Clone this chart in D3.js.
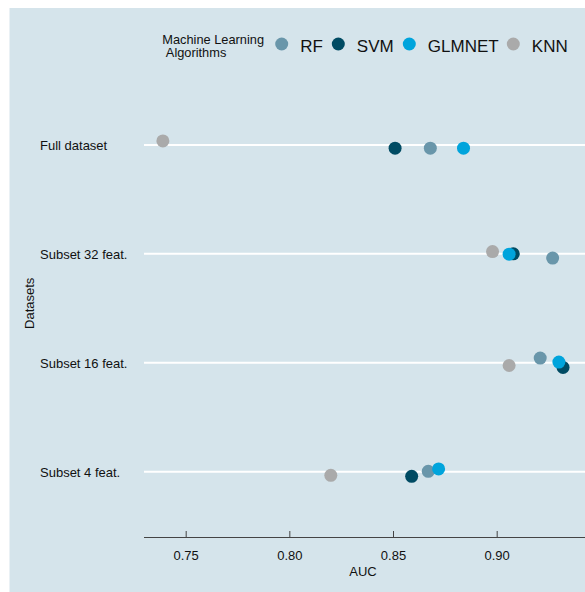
<!DOCTYPE html>
<html><head><meta charset="utf-8">
<script src="https://cdn.jsdelivr.net/npm/d3@7"></script>
<style>body{margin:0;background:#fff}svg{display:block}text{font-family:"Liberation Sans",Arial,sans-serif;fill:#111}</style>
</head><body>
<script>
const datasets = ["Full dataset","Subset 32 feat.","Subset 16 feat.","Subset 4 feat."];
const algorithms = ["RF","SVM","GLMNET","KNN"];
const colors = ["#6996AA","#004B63","#00A4DC","#AAAAAA"];
// AUC per algorithm, in dataset order
const aucRF     = [0.868, 0.927, 0.921, 0.867];
const aucSVM    = [0.851, 0.908, 0.932, 0.859];
const aucGLMNET = [0.884, 0.906, 0.930, 0.872];
const aucKNN    = [0.739, 0.898, 0.906, 0.820];
// vertical jitter (fraction of category step)
const jitRF     = [0.030, 0.039, -0.043, -0.003];
const jitSVM    = [0.030, 0.000, 0.043, 0.043];
const jitGLMNET = [0.030, 0.003, -0.006, -0.025];
const jitKNN    = [-0.037, -0.021, 0.025, 0.034];
const xTicks = [0.75, 0.80, 0.85, 0.90];

(function () {
const W = 585, H = 592;
const svg = d3.select("body").append("svg").attr("width", W).attr("height", H);
svg.append("rect").attr("x", 9.5).attr("y", 8).attr("width", W - 9.5).attr("height", H - 8).attr("fill", "#D5E4EB");

const mLeft = 144, mRight = 585, mTop = 79.6, mBottom = 537;
const x = d3.scaleLinear().domain([0.7299, 0.9426]).range([mLeft, mRight]);
const y = d3.scalePoint().domain(datasets).range([mTop, mBottom]).padding(0.6);
const step = y.step();

// gridlines
svg.append("g").selectAll("line").data(datasets).join("line")
  .attr("x1", mLeft).attr("x2", mRight).attr("y1", d => y(d)).attr("y2", d => y(d))
  .attr("stroke", "#fff").attr("stroke-width", 2);

// category labels
svg.append("g").selectAll("text").data(datasets).join("text")
  .attr("x", 40).attr("y", d => y(d) + 5.3).attr("font-size", 13).text(d => d);

// x axis
const xAxis = d3.axisBottom(x).tickValues(xTicks).tickFormat(d3.format(".2f")).tickSize(-6).tickPadding(14);
const gx = svg.append("g").attr("transform", `translate(0,${mBottom})`).call(xAxis);
gx.select(".domain").attr("d", `M${mLeft},0.5H${mRight}`).attr("stroke", "#444");
gx.selectAll(".tick line").attr("stroke", "#444");
gx.selectAll(".tick text").attr("font-size", 13).attr("font-family", "Liberation Sans, Arial, sans-serif").attr("fill", "#111").attr("dy", "0.71em");

svg.append("text").attr("x", 363).attr("y", 575.5).attr("text-anchor", "middle").attr("font-size", 13).text("AUC");
svg.append("text").attr("transform", "translate(33.5,303.3) rotate(-90)").attr("text-anchor", "middle").attr("font-size", 13).text("Datasets");

// points
const vals = [aucRF, aucSVM, aucGLMNET, aucKNN];
const jits = [jitRF, jitSVM, jitGLMNET, jitKNN];
const pts = [];
algorithms.forEach((a, i) => datasets.forEach((d, j) => pts.push({a, i, d, v: vals[i][j], jt: jits[i][j]})));
svg.append("g").selectAll("circle").data(pts).join("circle")
  .attr("cx", p => x(p.v)).attr("cy", p => y(p.d) + p.jt * step).attr("r", 6.5)
  .attr("fill", p => colors[p.i]);

// legend
const lg = svg.append("g");
lg.append("text").attr("x", 162.3).attr("y", 43.5).attr("font-size", 12.8).text("Machine Learning");
lg.append("text").attr("x", 162.3).attr("y", 57).attr("font-size", 12.8).text("\u00A0Algorithms");
const legX = [281.7, 338.3, 409.3, 513.3];
algorithms.forEach((a, i) => {
  lg.append("circle").attr("cx", legX[i]).attr("cy", 44).attr("r", 6.5).attr("fill", colors[i]);
  lg.append("text").attr("x", legX[i] + 18.5).attr("y", 51.7).attr("font-size", 17).text(a);
});
})();
</script>
</body></html>
